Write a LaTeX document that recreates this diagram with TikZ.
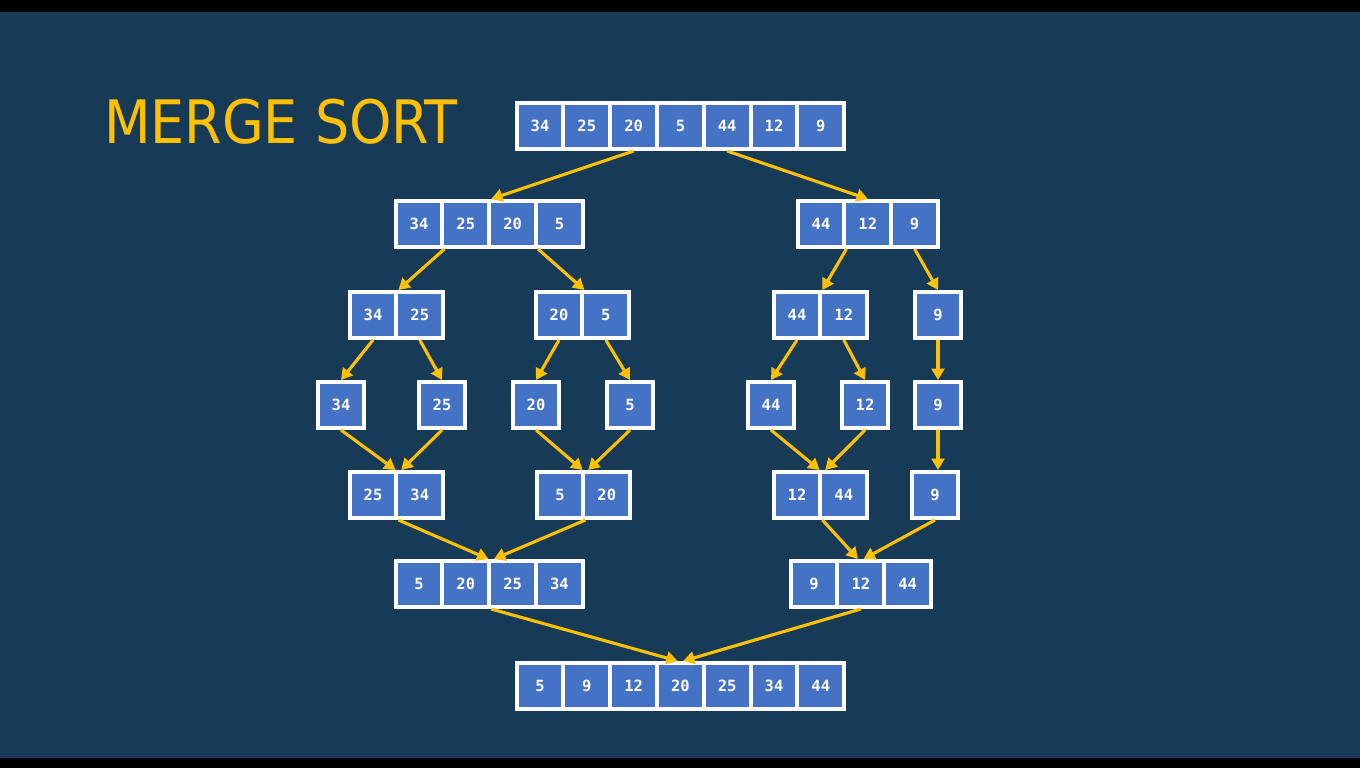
\documentclass[tikz,border=0pt]{standalone}
\usepackage{fontspec}
\newfontfamily\titlefont{DejaVu Sans Condensed}
\newfontfamily\cellfont{DejaVu Sans Mono}
\usetikzlibrary{arrows.meta}

\begin{document}
\begin{tikzpicture}[
    x=0.025cm, y=-0.025cm,
    cell/.style={draw=white, fill=c2, line width=1mm, minimum width=1.17cm,
        minimum height=1.15cm, inner sep=0pt, text=white,
        font=\cellfont\bfseries\fontsize{11}{13}\selectfont},
    link/.style={-{Triangle[length=8pt, width=9pt]}, line width=2.2pt, c3},
]

\definecolor{c1}{HTML}{173B57}   % background
\definecolor{c2}{HTML}{4472C4}   % cells
\definecolor{c3}{HTML}{FFC000}   % title and arrows

\def\pw{46.8}   % cell pitch

% ---------------------------------------------------------------- frame
\useasboundingbox (0,0) rectangle (1360,768);
\fill[black] (0,0) rectangle (1360,768);
\fill[c1] (0,12) rectangle (1360,758);

\node[font=\titlefont\fontsize{42.6}{50}\selectfont, text=c3, anchor=base west,
    inner sep=0pt] (title) at (104,144) {MERGE SORT};

% ================================================================
% Arrays, one group per name: centre of first cell, then values.
%   split:  a -> b c -> d e f g -> h i j k m n o
%   merge:  p q r s -> u v -> w
% ================================================================
\foreach \g/\x/\y/\vals in {%
    a/540/126/{34,25,20,5,44,12,9},
    b/419/224/{34,25,20,5}, c/821/224/{44,12,9},
    d/373/315/{34,25}, e/559/315/{20,5}, f/797/315/{44,12}, g/938/315/{9},
    h/341/405/{34}, i/442/405/{25}, j/536/405/{20}, k/630/405/{5},
    m/771/405/{44}, n/865/405/{12}, o/938/405/{9},
    p/373/495/{25,34}, q/560/495/{5,20}, r/797/495/{12,44}, s/935/495/{9},
    u/419/584/{5,20,25,34}, v/814/584/{9,12,44},
    w/540/686/{5,9,12,20,25,34,44}} {
  \foreach \v [count=\i from 0] in \vals {
    \node[cell] (\g\i) at (\x+\i*\pw, \y) {\v};
  }
}

% ---------------------------------------------------------------- split
\draw[link] (a2.south) -- (b1.north east);
\draw[link] (a4.south) -- (c1.north);

\draw[link] (b0.south east) -- (d0.north east);
\draw[link] (b2.south east) -- (e0.north east);
\draw[link] (c0.south east) -- (f0.north east);
\draw[link] (c2.south) -- (g0.north);

\draw[link] (d0.south) -- (h0.north);
\draw[link] (d1.south) -- (i0.north);
\draw[link] (e0.south) -- (j0.north);
\draw[link] (e1.south) -- (k0.north);
\draw[link] (f0.south) -- (m0.north);
\draw[link] (f1.south) -- (n0.north);
\draw[link] (g0.south) -- (o0.north);

% ---------------------------------------------------------------- merge
\draw[link] (h0.south) -- ([xshift=-2pt]p0.north east);
\draw[link] (i0.south) -- ([xshift=2pt]p0.north east);
\draw[link] (j0.south) -- ([xshift=-2pt]q0.north east);
\draw[link] (k0.south) -- ([xshift=2pt]q0.north east);
\draw[link] (m0.south) -- ([xshift=-2pt]r0.north east);
\draw[link] (n0.south) -- ([xshift=2pt]r0.north east);
\draw[link] (o0.south) -- (o0.south |- s0.north);

\draw[link] (p0.south east) -- ([xshift=-2pt]u1.north east);
\draw[link] (q0.south east) -- ([xshift=2pt]u1.north east);
\draw[link] (r0.south east) -- ([xshift=-2pt]v1.north);
\draw[link] (s0.south) -- ([xshift=2pt]v1.north);

\draw[link] (u1.south east) -- ([xshift=-2pt]w3.north);
\draw[link] (v1.south) -- ([xshift=2pt]w3.north);

\end{tikzpicture}
\end{document}
